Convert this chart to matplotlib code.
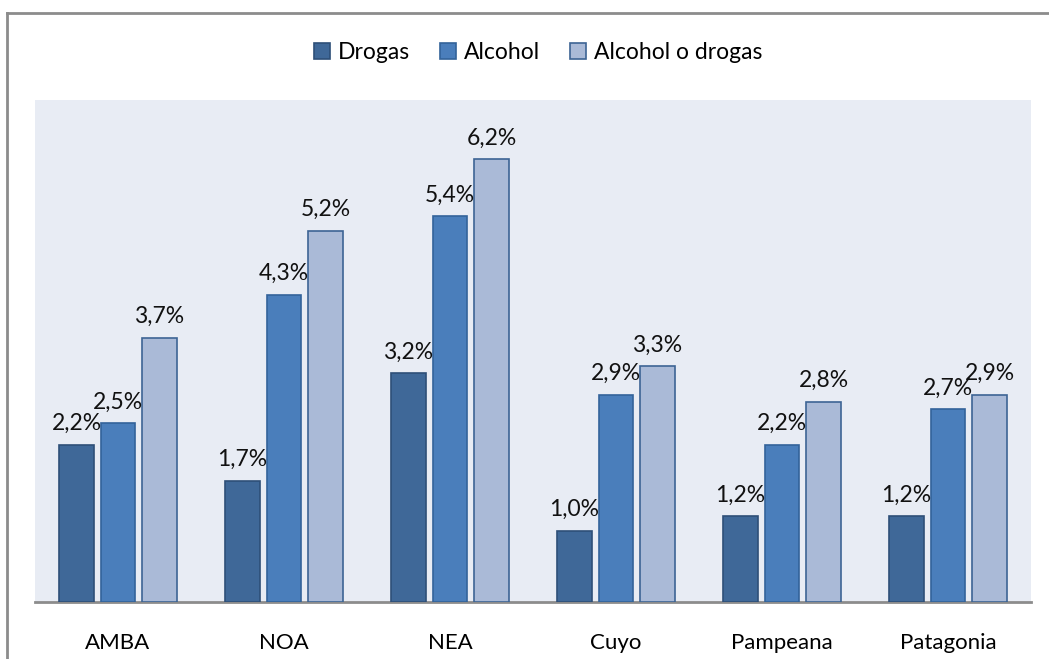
import matplotlib

matplotlib.use("Agg")
import matplotlib.pyplot as plt
import numpy as np
from matplotlib.lines import Line2D

plt.rcParams["font.family"] = ["Lato", "DejaVu Sans"]

regions = ["AMBA", "NOA", "NEA", "Cuyo", "Pampeana", "Patagonia"]
series_names = ["Drogas", "Alcohol", "Alcohol o drogas"]
drogas = [2.2, 1.7, 3.2, 1.0, 1.2, 1.2]
alcohol = [2.5, 4.3, 5.4, 2.9, 2.2, 2.7]
alcohol_o_drogas = [3.7, 5.2, 6.2, 3.3, 2.8, 2.9]

colors = ["#3F6898", "#4A7EBB", "#AABAD7"]
edges = ["#2E4F78", "#33639A", "#3D6494"]


def main() -> None:
    fig = plt.figure(figsize=(10.49, 6.59), dpi=100)
    ax = fig.add_axes([0.0334, 0.0865, 0.9494, 0.7618])
    ax.set_facecolor("#E8ECF4")

    x = np.arange(len(regions))
    width = 0.21
    offsets = [-0.25, 0.0, 0.25]
    all_series = [drogas, alcohol, alcohol_o_drogas]

    for values, off, col, edge, name in zip(all_series, offsets, colors, edges, series_names):
        bars = ax.bar(x + off, values, width, color=col, edgecolor=edge,
                      linewidth=1.2, label=name, zorder=3)
        for bar, v in zip(bars, values):
            ax.text(
                bar.get_x() + bar.get_width() / 2,
                v + 0.15,
                f"{v:.1f}%".replace(".", ","),
                ha="center",
                va="bottom",
                fontsize=16.5,
                color="#111111",
                zorder=4,
            )

    ax.set_xlim(-0.5, len(regions) - 0.5)
    ax.set_ylim(0, 7.03)
    ax.set_yticks([])
    ax.set_xticks(x)
    ax.set_xticklabels(regions, fontsize=16)
    ax.tick_params(axis="x", length=0, pad=22)
    for side in ["top", "right", "left"]:
        ax.spines[side].set_visible(False)
    ax.spines["bottom"].set_color("#8C8C8C")
    ax.spines["bottom"].set_linewidth(2)

    handles = [
        plt.Rectangle((0, 0), 1, 1, facecolor=c, edgecolor=e, linewidth=1.2)
        for c, e in zip(colors, edges)
    ]
    fig.legend(
        handles,
        series_names,
        loc="center",
        bbox_to_anchor=(0.513, 0.921),
        ncol=3,
        frameon=False,
        fontsize=16.5,
        handlelength=0.7,
        handleheight=0.7,
        handletextpad=0.35,
        columnspacing=1.3,
    )

    # outer chart border (left and top only are visible in the crop)
    fig.add_artist(Line2D([0.0067, 0.0067], [0, 0.9803], color="#8C8C8C", linewidth=2,
                          transform=fig.transFigure))
    fig.add_artist(Line2D([0.0067, 1.0], [0.9803, 0.9803], color="#8C8C8C", linewidth=2,
                          transform=fig.transFigure))

    fig.savefig("out.png", dpi=100)


if __name__ == "__main__":
    main()
